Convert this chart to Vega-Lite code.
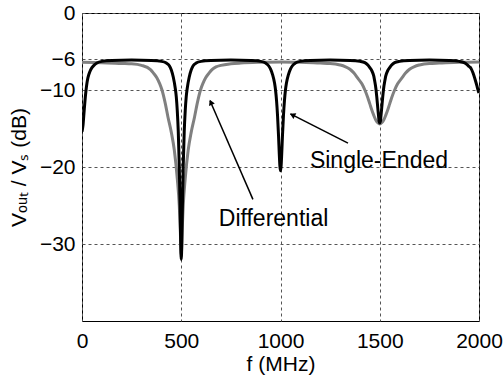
{
  "$schema": "https://vega.github.io/schema/vega-lite/v6.json",
  "width": 397,
  "height": 308,
  "autosize": "none",
  "padding": {"left": 82, "top": 13, "right": 25, "bottom": 65},
  "background": "white",
  "config": {
    "font": "Liberation Sans",
    "view": {"stroke": "#000000", "strokeWidth": 1},
    "axis": {
      "labelFont": "Liberation Sans",
      "titleFont": "Liberation Sans",
      "labelFontSize": 21,
      "titleFontSize": 21,
      "titleFontWeight": "normal",
      "labelColor": "#000000",
      "titleColor": "#000000",
      "domain": false,
      "ticks": false,
      "grid": true,
      "gridColor": "#555555",
      "gridDash": [3, 3],
      "gridWidth": 1,
      "gridOpacity": 1
    }
  },
  "datasets": {
    "differential": [
      {"f": 0, "db": -6.4}, {"f": 100, "db": -6.45}, {"f": 200, "db": -6.55}, {"f": 250, "db": -6.6},
      {"f": 300, "db": -6.8}, {"f": 345, "db": -7.35}, {"f": 360, "db": -7.8}, {"f": 377, "db": -8.4},
      {"f": 390, "db": -9.1}, {"f": 403, "db": -10.0}, {"f": 420, "db": -11.8}, {"f": 433, "db": -13.5},
      {"f": 450, "db": -15.5}, {"f": 465, "db": -17.8}, {"f": 480, "db": -21.5}, {"f": 490, "db": -25},
      {"f": 495, "db": -28}, {"f": 500, "db": -31.5}, {"f": 505, "db": -28}, {"f": 510, "db": -25},
      {"f": 520, "db": -21.5}, {"f": 535, "db": -17.8}, {"f": 550, "db": -15.5}, {"f": 567, "db": -13.5},
      {"f": 580, "db": -11.8}, {"f": 597, "db": -10.0}, {"f": 610, "db": -9.1}, {"f": 623, "db": -8.4},
      {"f": 640, "db": -7.8}, {"f": 655, "db": -7.35}, {"f": 675, "db": -7.0}, {"f": 700, "db": -6.8},
      {"f": 750, "db": -6.6}, {"f": 800, "db": -6.5}, {"f": 900, "db": -6.4}, {"f": 1000, "db": -6.35},
      {"f": 1100, "db": -6.4}, {"f": 1200, "db": -6.5}, {"f": 1250, "db": -6.55}, {"f": 1300, "db": -6.75},
      {"f": 1325, "db": -6.95}, {"f": 1350, "db": -7.3}, {"f": 1370, "db": -7.8}, {"f": 1390, "db": -8.5},
      {"f": 1410, "db": -9.2}, {"f": 1425, "db": -10.0}, {"f": 1440, "db": -11.0}, {"f": 1450, "db": -11.8},
      {"f": 1460, "db": -12.6}, {"f": 1470, "db": -13.3}, {"f": 1480, "db": -13.9}, {"f": 1490, "db": -14.25},
      {"f": 1500, "db": -14.4}, {"f": 1510, "db": -14.25}, {"f": 1520, "db": -13.9}, {"f": 1530, "db": -13.3},
      {"f": 1540, "db": -12.6}, {"f": 1550, "db": -11.8}, {"f": 1560, "db": -11.0}, {"f": 1575, "db": -10.0},
      {"f": 1590, "db": -9.2}, {"f": 1610, "db": -8.5}, {"f": 1630, "db": -7.8}, {"f": 1650, "db": -7.3},
      {"f": 1675, "db": -6.95}, {"f": 1700, "db": -6.75}, {"f": 1750, "db": -6.55}, {"f": 1800, "db": -6.5},
      {"f": 1900, "db": -6.4}, {"f": 2000, "db": -6.35}
    ],
    "singleEnded": [
      {"f": 0, "db": -15.4}, {"f": 5, "db": -14.6}, {"f": 10, "db": -13.0}, {"f": 15, "db": -11.4},
      {"f": 20, "db": -10.1}, {"f": 25, "db": -9.1}, {"f": 30, "db": -8.4}, {"f": 40, "db": -7.6},
      {"f": 50, "db": -7.1}, {"f": 60, "db": -6.8}, {"f": 75, "db": -6.5}, {"f": 100, "db": -6.28},
      {"f": 150, "db": -6.17}, {"f": 250, "db": -6.12}, {"f": 350, "db": -6.17}, {"f": 400, "db": -6.28},
      {"f": 425, "db": -6.5}, {"f": 440, "db": -6.85}, {"f": 450, "db": -7.4}, {"f": 460, "db": -8.35},
      {"f": 470, "db": -9.8}, {"f": 475, "db": -10.9}, {"f": 480, "db": -12.7}, {"f": 485, "db": -15.4},
      {"f": 490, "db": -19.8}, {"f": 494, "db": -25.0}, {"f": 497, "db": -29.6}, {"f": 500, "db": -32},
      {"f": 503, "db": -29.6}, {"f": 506, "db": -25.0}, {"f": 510, "db": -19.8}, {"f": 515, "db": -15.4},
      {"f": 520, "db": -12.7}, {"f": 525, "db": -10.9}, {"f": 530, "db": -9.8}, {"f": 540, "db": -8.35},
      {"f": 550, "db": -7.4}, {"f": 560, "db": -6.85}, {"f": 575, "db": -6.5}, {"f": 600, "db": -6.28},
      {"f": 650, "db": -6.17}, {"f": 750, "db": -6.12}, {"f": 850, "db": -6.17}, {"f": 900, "db": -6.28},
      {"f": 925, "db": -6.5}, {"f": 940, "db": -6.85}, {"f": 950, "db": -7.3}, {"f": 960, "db": -8.0},
      {"f": 970, "db": -9.1}, {"f": 975, "db": -10.0}, {"f": 980, "db": -11.35}, {"f": 985, "db": -13.3},
      {"f": 990, "db": -15.9}, {"f": 994, "db": -18.4}, {"f": 997, "db": -19.9}, {"f": 1000, "db": -20.5},
      {"f": 1003, "db": -19.9}, {"f": 1006, "db": -18.4}, {"f": 1010, "db": -15.9}, {"f": 1015, "db": -13.3},
      {"f": 1020, "db": -11.35}, {"f": 1025, "db": -10.0}, {"f": 1030, "db": -9.1}, {"f": 1040, "db": -8.0},
      {"f": 1050, "db": -7.3}, {"f": 1060, "db": -6.85}, {"f": 1075, "db": -6.5}, {"f": 1100, "db": -6.28},
      {"f": 1150, "db": -6.17}, {"f": 1250, "db": -6.12}, {"f": 1350, "db": -6.17}, {"f": 1400, "db": -6.28},
      {"f": 1425, "db": -6.45}, {"f": 1440, "db": -6.75}, {"f": 1450, "db": -7.1}, {"f": 1460, "db": -7.5},
      {"f": 1470, "db": -8.2}, {"f": 1475, "db": -8.9}, {"f": 1480, "db": -9.7}, {"f": 1485, "db": -10.9},
      {"f": 1490, "db": -12.3}, {"f": 1494, "db": -13.4}, {"f": 1497, "db": -14.1}, {"f": 1500, "db": -14.3},
      {"f": 1503, "db": -14.1}, {"f": 1506, "db": -13.4}, {"f": 1510, "db": -12.3}, {"f": 1515, "db": -10.9},
      {"f": 1520, "db": -9.7}, {"f": 1525, "db": -8.9}, {"f": 1530, "db": -8.2}, {"f": 1540, "db": -7.5},
      {"f": 1550, "db": -7.1}, {"f": 1560, "db": -6.75}, {"f": 1575, "db": -6.45}, {"f": 1600, "db": -6.28},
      {"f": 1650, "db": -6.17}, {"f": 1750, "db": -6.12}, {"f": 1850, "db": -6.17}, {"f": 1900, "db": -6.28},
      {"f": 1925, "db": -6.45}, {"f": 1940, "db": -6.7}, {"f": 1950, "db": -6.95}, {"f": 1960, "db": -7.2},
      {"f": 1970, "db": -7.8}, {"f": 1980, "db": -8.6}, {"f": 1990, "db": -9.5}, {"f": 1995, "db": -10.0},
      {"f": 2000, "db": -10.4}
    ]
  },
  "layer": [
    {
      "data": {"name": "differential"},
      "mark": {"type": "line", "color": "#808080", "strokeWidth": 3, "interpolate": "monotone", "clip": true},
      "encoding": {
        "x": {
          "field": "f", "type": "quantitative",
          "scale": {"domain": [0, 2000], "nice": false, "zero": false},
          "axis": {"title": "f (MHz)", "values": [0, 500, 1000, 1500, 2000], "format": "d", "labelPadding": 9, "titlePadding": 2, "labelFlush": false}
        },
        "y": {
          "field": "db", "type": "quantitative",
          "scale": {"domain": [-40, 0], "nice": false, "zero": false},
          "axis": {"title": "Vₒᵤₜ / Vₛ (dB)", "values": [0, -6, -10, -20, -30], "format": "d", "labelPadding": 7, "titlePadding": 10}
        }
      }
    },
    {
      "data": {"name": "singleEnded"},
      "mark": {"type": "line", "color": "#000000", "strokeWidth": 3, "interpolate": "monotone", "clip": true},
      "encoding": {
        "x": {"field": "f", "type": "quantitative"},
        "y": {"field": "db", "type": "quantitative"}
      }
    },
    {
      "data": {"values": [
        {"f": 861, "db": -24.2, "f2": 645, "db2": -11.4},
        {"f": 1340, "db": -16.9, "f2": 1050, "db2": -13.1}
      ]},
      "mark": {"type": "rule", "color": "#000000", "strokeWidth": 1.5},
      "encoding": {
        "x": {"field": "f", "type": "quantitative"},
        "y": {"field": "db", "type": "quantitative"},
        "x2": {"field": "f2"},
        "y2": {"field": "db2"}
      }
    },
    {
      "data": {"values": [{"f": 649, "db": -11.6}]},
      "mark": {"type": "point", "shape": "triangle-up", "filled": true, "color": "#000000", "size": 40, "angle": 337, "opacity": 1},
      "encoding": {
        "x": {"field": "f", "type": "quantitative"},
        "y": {"field": "db", "type": "quantitative"}
      }
    },
    {
      "data": {"values": [{"f": 1060, "db": -13.23}]},
      "mark": {"type": "point", "shape": "triangle-up", "filled": true, "color": "#000000", "size": 40, "angle": 297, "opacity": 1},
      "encoding": {
        "x": {"field": "f", "type": "quantitative"},
        "y": {"field": "db", "type": "quantitative"}
      }
    },
    {
      "data": {"values": [
        {"f": 1496, "db": -20.1, "label": "Single-Ended"},
        {"f": 965, "db": -27.7, "label": "Differential"}
      ]},
      "mark": {"type": "text", "font": "Liberation Sans", "fontSize": 23, "color": "#000000", "align": "center", "baseline": "alphabetic"},
      "encoding": {
        "x": {"field": "f", "type": "quantitative"},
        "y": {"field": "db", "type": "quantitative"},
        "text": {"field": "label"}
      }
    }
  ]
}
